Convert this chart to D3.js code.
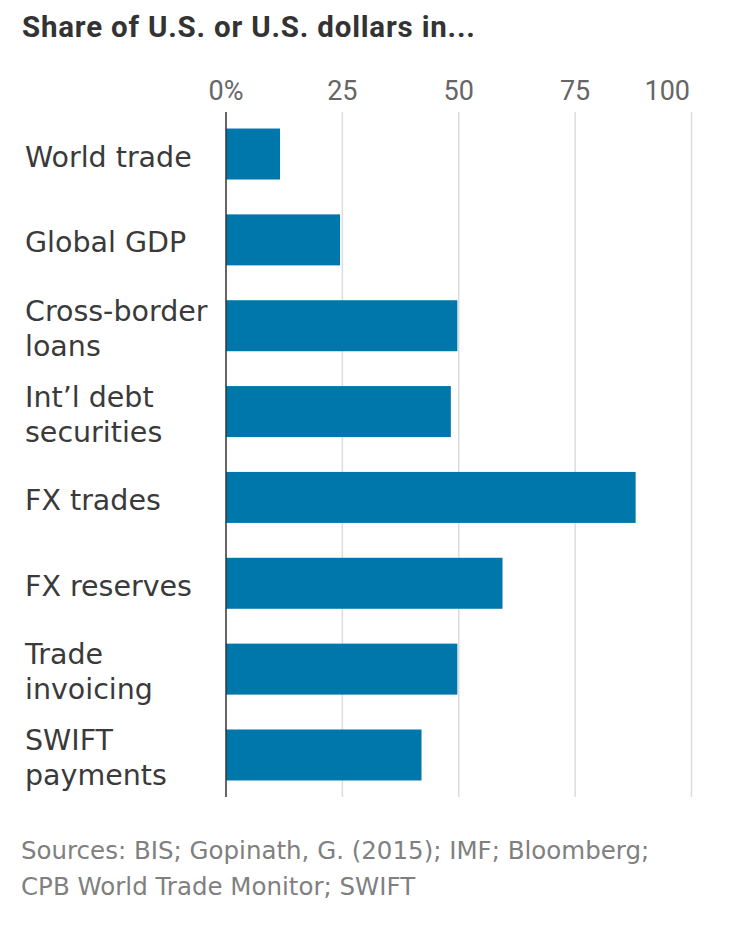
<!DOCTYPE html>
<html>
<head>
<meta charset="utf-8">
<script src="https://cdn.jsdelivr.net/npm/d3@7"></script>
<style>
  html, body { margin: 0; padding: 0; background: #fff; }
  svg { display: block; }
</style>
</head>
<body>
<svg id="chart" width="732" height="926"></svg>
<script>
// ---- data ----
const categories = ["World trade", "Global GDP", "Cross-border\nloans", "Int\u2019l debt\nsecurities", "FX trades", "FX reserves", "Trade\ninvoicing", "SWIFT\npayments"];
const values = [11.6, 24.5, 49.7, 48.3, 88, 59.4, 49.7, 42];
const tickValues = [0, 25, 50, 75, 100];
const tickLabels = ["0%", "25", "50", "75", "100"];
const title = "Share of U.S. or U.S. dollars in...";
const sourceLines = ["Sources: BIS; Gopinath, G. (2015); IMF; Bloomberg;", "CPB World Trade Monitor; SWIFT"];

// ---- layout ----
const FONT = "Roboto, 'Noto Sans', sans-serif";
const FONT2 = "'DejaVu Sans', 'Noto Sans', sans-serif";
const svg = d3.select("#chart");
const x = d3.scaleLinear().domain([0, 100]).range([226, 691.5]);
const y = d3.scaleBand().domain(categories).range([112, 797]).paddingInner(0.406).paddingOuter(0.1925);

svg.append("text")
  .attr("x", 22).attr("y", 37)
  .attr("font-family", FONT).attr("font-weight", 700).attr("font-size", 29.5)
  .attr("letter-spacing", 0.8)
  .attr("fill", "#333")
  .text(title);

// gridlines
svg.append("g").selectAll("line").data(tickValues.slice(1)).join("line")
  .attr("x1", d => x(d)).attr("x2", d => x(d))
  .attr("y1", 112).attr("y2", 797)
  .attr("stroke", "#dcdcdc").attr("stroke-width", 1.5);

// tick labels
const lastTick = tickValues[tickValues.length - 1];
svg.append("g").selectAll("text").data(tickValues).join("text")
  .attr("x", d => d === lastTick ? x(d) - 1.5 : x(d)).attr("y", 100)
  .attr("text-anchor", d => d === lastTick ? "end" : "middle")
  .attr("font-family", FONT).attr("font-size", 27)
  .attr("fill", "#666")
  .text((d, i) => tickLabels[i]);

// bars
svg.append("g").selectAll("rect").data(values).join("rect")
  .attr("x", x(0))
  .attr("y", (d, i) => y(categories[i]))
  .attr("width", d => x(d) - x(0))
  .attr("height", y.bandwidth())
  .attr("fill", "#0077ab");

// zero axis line
svg.append("line")
  .attr("x1", x(0)).attr("x2", x(0))
  .attr("y1", 112).attr("y2", 797)
  .attr("stroke", "#333").attr("stroke-width", 1.5);

// category labels
const lab = svg.append("g").selectAll("text").data(categories).join("text")
  .attr("font-family", FONT2).attr("font-size", 28.5)
  .attr("fill", "#3a3a3a");
lab.each(function(d) {
  const lines = d.split("\n");
  const cy = y(d) + y.bandwidth() / 2;
  const lh = 35;
  const base = cy + 12.5 - (lines.length - 1) * lh / 2;
  d3.select(this).selectAll("tspan").data(lines).join("tspan")
    .attr("x", 25)
    .attr("y", (l, j) => base + j * lh)
    .text(l => l);
});

// source
svg.append("g").selectAll("text").data(sourceLines).join("text")
  .attr("x", 21).attr("y", (d, i) => 859 + i * 36)
  .attr("font-family", FONT2).attr("font-size", 24.5)
  .attr("fill", "#808080")
  .text(d => d);
</script>
</body>
</html>
